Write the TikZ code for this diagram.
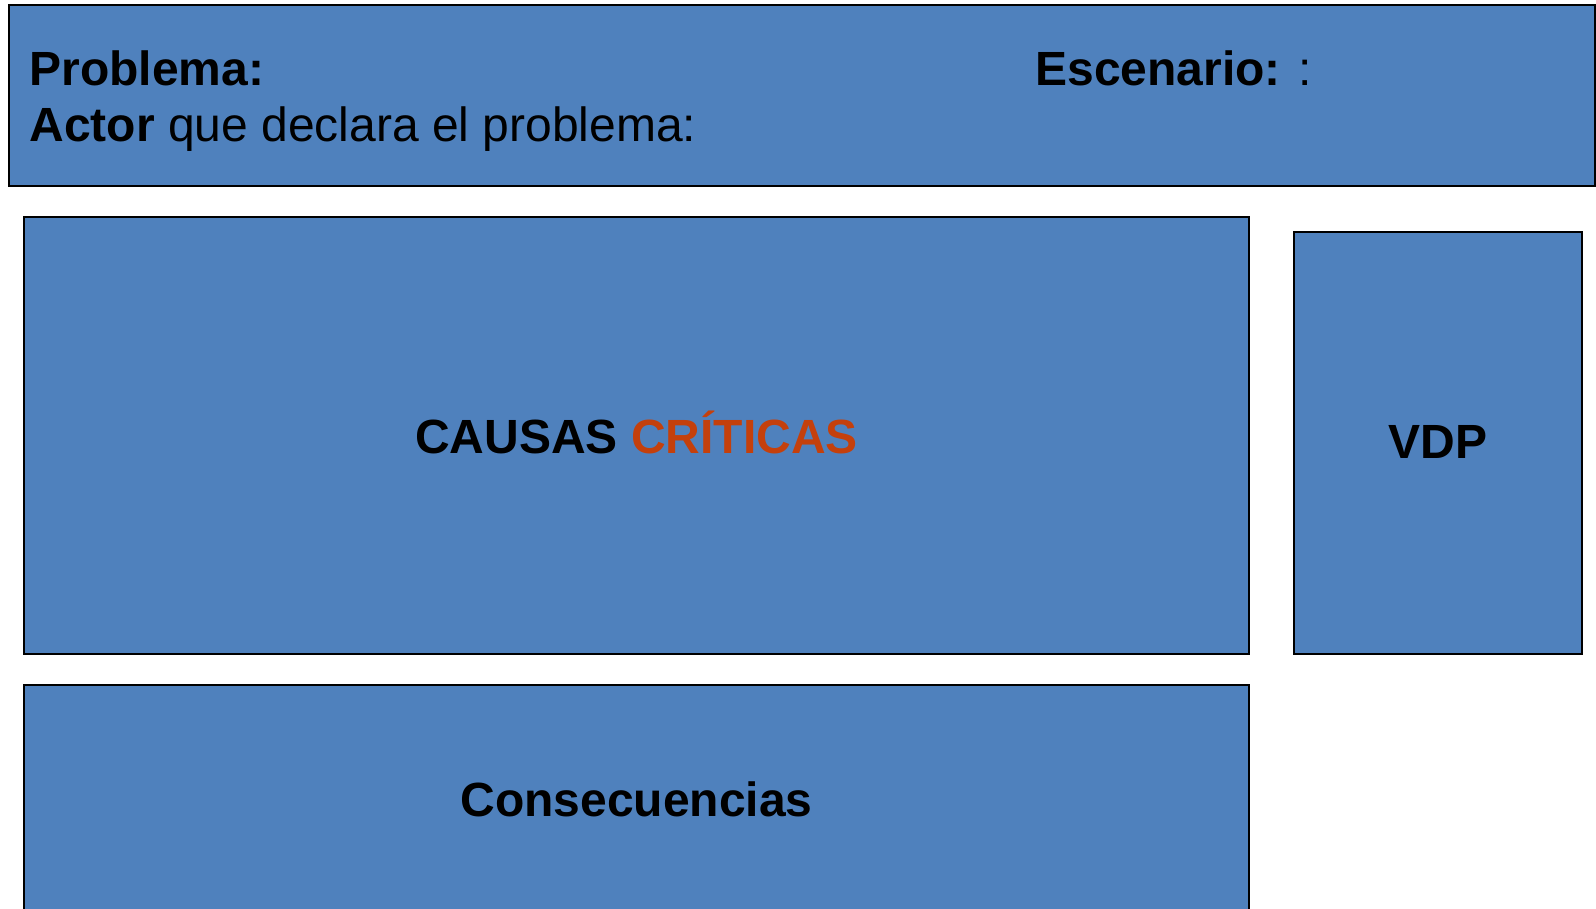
\documentclass[tikz,border=0pt]{standalone}
\usepackage{fontspec}
\setmainfont{Liberation Sans}
\definecolor{panelblue}{RGB}{79,129,189}
\definecolor{critred}{RGB}{196,64,12}

\begin{document}
\begin{tikzpicture}[x=0.5pt,y=-0.5pt]
\tikzstyle{panel}=[fill=panelblue,draw=black,line width=1.3pt]
\tikzstyle{label}=[inner sep=0pt,font=\fontsize{24}{29}\selectfont]
\tikzstyle{title}=[inner sep=0pt,font=\fontsize{24}{29}\selectfont\bfseries]
\useasboundingbox (0,0) rectangle (1596,909);
\clip (0,0) rectangle (1596,909);
\draw[panel] (9,5) rectangle (1595,186);
\draw[panel] (24,217) rectangle (1249,654);
\draw[panel] (1294,232) rectangle (1582,654);
\draw[panel] (24,685) rectangle (1249,930);
\node[label,anchor=base west] (problema) at (29,86) {\textbf{Problema:}};
\node[label,anchor=base west] (actor) at (29,142) {\textbf{Actor} que declara el problema:};
\node[label,anchor=base west] (escenario) at (1035,86) {\textbf{Escenario:} :};
\node[title] (causas) at (636.5,432) {CAUSAS \textcolor{critred}{CRÍTICAS}};
\node[title] (vdp) at (1438,442) {VDP};
\node[title] (consec) at (636.5,799) {Consecuencias};
\end{tikzpicture}
\end{document}
